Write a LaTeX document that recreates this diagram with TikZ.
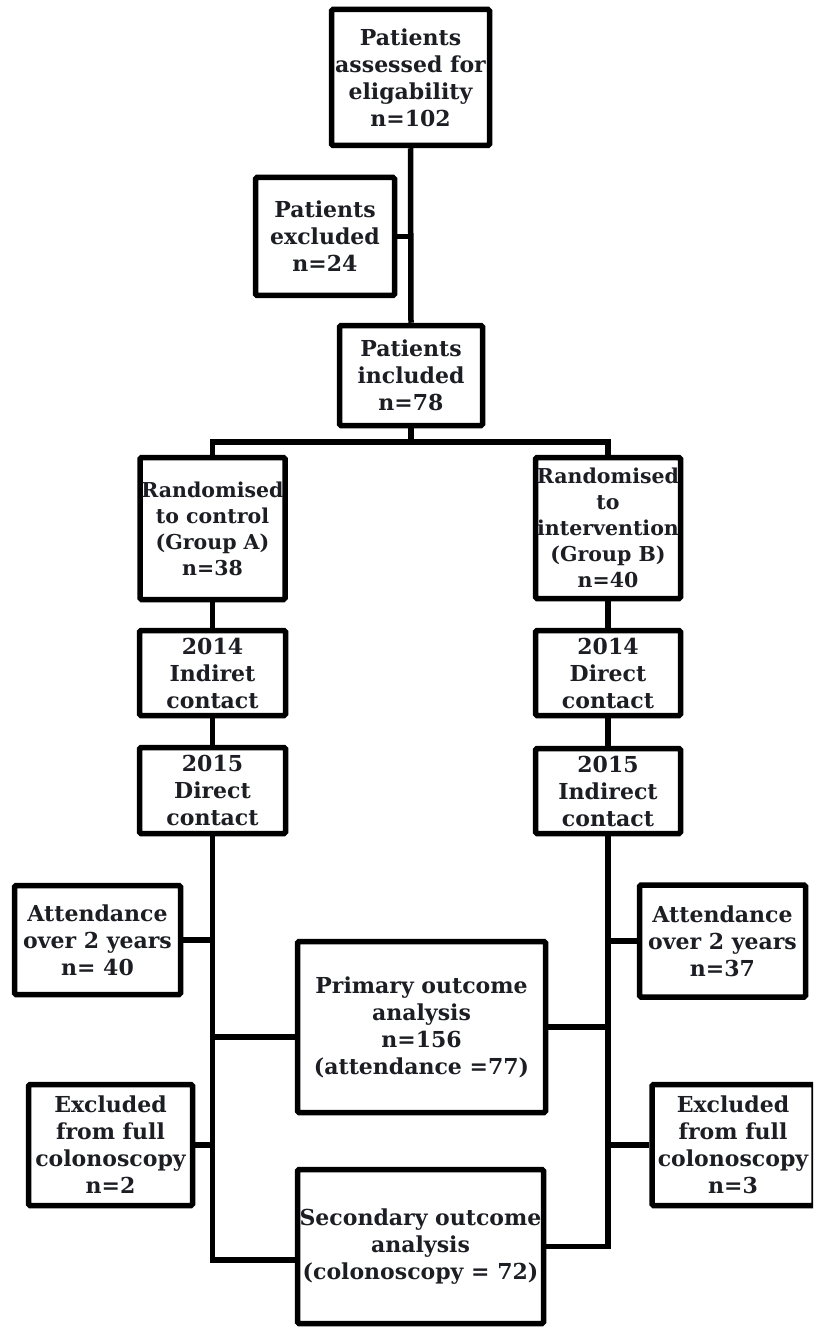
\documentclass[tikz,border=0pt]{standalone}
\usepackage{fontspec}
\setmainfont{DejaVu Serif}
\definecolor{txt}{RGB}{28,30,36}
\tikzset{
  box/.style={draw=black, line width=5.5pt, fill=white, rounded corners=1.5pt,
    align=center, inner sep=0pt, text=txt,
    font=\bfseries\fontsize{22}{27}\selectfont},
  rbox/.style={box, font=\bfseries\fontsize{20.5}{26}\selectfont},
  conn/.style={draw=black, line width=5.5pt}
}
\begin{document}
\begin{tikzpicture}[x=1pt,y=-1pt]
\useasboundingbox (0,0) rectangle (813,1329);
\fill[white] (0,0) rectangle (813,1329);
\begin{scope}
\clip (0,0) rectangle (813,1329);
% nodes
\node[box, minimum width=158, minimum height=136] (top) at (410.5,77.5) {Patients\\assessed for\\eligability\\n=102};
\node[box, minimum width=139, minimum height=118] (excl) at (325,236.5) {Patients\\excluded\\n=24};
\node[box, minimum width=143, minimum height=100] (incl) at (411,375.5) {Patients\\included\\n=78};
\node[rbox, minimum width=145, minimum height=142] (randA) at (212.5,528.5) {Randomised\\to control\\(Group A)\\n=38};
\node[rbox, minimum width=145, minimum height=141] (randB) at (608,528) {Randomised\\to\\intervention\\(Group B)\\n=40};
\node[box, minimum width=146, minimum height=85] (c14A) at (212.5,673) {2014\\Indiret\\contact};
\node[box, minimum width=145, minimum height=85] (c14B) at (608,673) {2014\\Direct\\contact};
\node[box, minimum width=146, minimum height=86] (c15A) at (212.5,790.5) {2015\\Direct\\contact};
\node[box, minimum width=145, minimum height=85] (c15B) at (608,791) {2015\\Indirect\\contact};
\node[box, minimum width=166, minimum height=109] (attA) at (97.5,940) {Attendance\\over 2 years\\n= 40};
\node[box, minimum width=166, minimum height=112] (attB) at (722.5,941) {Attendance\\over 2 years\\n=37};
\node[box, minimum width=248, minimum height=171] (prim) at (421.5,1027) {Primary outcome\\analysis\\n=156\\(attendance =77)};
\node[box, minimum width=164, minimum height=121] (exclA) at (110.5,1145) {Excluded\\from full\\colonoscopy\\n=2};
\node[box, minimum width=162, minimum height=121] (exclB) at (733,1145) {Excluded\\from full\\colonoscopy\\n=3};
\node[box, minimum width=246, minimum height=154] (sec) at (420.5,1246.5) {Secondary outcome\\analysis\\(colonoscopy = 72)};
% helper coordinates
\coordinate (yBr) at (0,442);
\coordinate (yPL) at (0,1037);
\coordinate (ySL) at (0,1260);
% connectors
\draw[conn] (top.south) -- (incl.north);
\draw[conn] (excl.east) -- (excl.east -| top.south);
\draw[conn] (incl.south) -- (incl.south |- yBr);
\draw[conn] (randA.north) -- (randA.north |- yBr) -- (randB.north |- yBr) -- (randB.north);
\draw[conn] (randA.south) -- (c14A.north);
\draw[conn] (c14A.south) -- (c15A.north);
\draw[conn] (randB.south) -- (c14B.north);
\draw[conn] (c14B.south) -- (c15B.north);
\draw[conn] (c15A.south) -- (c15A.south |- ySL) -- (sec.west |- ySL);
\draw[conn] (attA.east) -- (attA.east -| c15A.south);
\draw[conn] (exclA.east) -- (exclA.east -| c15A.south);
\draw[conn] (c15A.south |- yPL) -- (prim.west |- yPL);
\draw[conn] (c15B.south) -- (c15B.south |- sec.east) -- (sec.east);
\draw[conn] (attB.west) -- (attB.west -| c15B.south);
\draw[conn] (exclB.west) -- (exclB.west -| c15B.south);
\draw[conn] (prim.east) -- (prim.east -| c15B.south);
\end{scope}
\end{tikzpicture}
\end{document}
